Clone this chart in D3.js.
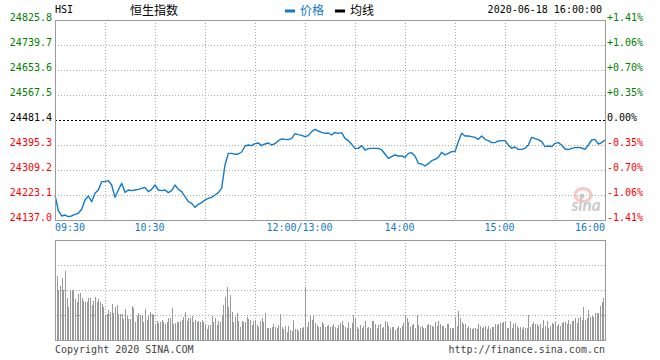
<!DOCTYPE html>
<html>
<head>
<meta charset="utf-8">
<script src="https://cdn.jsdelivr.net/npm/d3@7/dist/d3.min.js"></script>
<style>
html,body{margin:0;padding:0;background:#fff;}
svg{display:block;}
</style>
</head>
<body>
<svg id="chart" width="660" height="360"></svg>
<script>
// ---------- data ----------
const title = "恒生指数";
const symbol = "HSI";
const dateText = "2020-06-18 16:00:00";
const prevClose = 24481.4;
const legendNames = ["价格", "均线"];

// price every 2 trading minutes from 09:30 (lunch break removed)
const priceValues = [
  24223.1,24169.2,24150.8,24154.2,24148.5,24150.8,24156.5,24160.0,24173.8,24205.9,
  24219.7,24200.2,24228.9,24240.3,24269.0,24269.0,24272.5,24257.6,24215.1,24240.3,
  24263.3,24232.3,24240.3,24238.0,24240.3,24242.6,24246.1,24249.5,24234.6,24242.6,
  24257.6,24240.3,24238.0,24240.3,24231.2,24238.0,24257.6,24242.6,24234.6,24217.4,
  24200.2,24194.4,24180.6,24191.0,24196.7,24205.9,24211.6,24215.1,24223.1,24231.2,
  24246.1,24326.4,24366.6,24366.6,24363.2,24364.3,24371.2,24391.9,24395.3,24393.0,
  24399.9,24402.2,24393.0,24398.8,24402.2,24395.3,24399.9,24410.2,24416.0,24414.8,
  24413.7,24418.3,24434.4,24430.9,24428.6,24424.0,24427.5,24441.2,24449.3,24443.5,
  24438.9,24435.5,24436.6,24429.8,24438.9,24435.5,24437.8,24418.3,24410.2,24397.6,
  24383.8,24383.8,24393.0,24378.1,24382.7,24383.8,24383.8,24383.8,24378.1,24364.3,
  24349.4,24355.1,24360.9,24357.4,24357.4,24352.8,24366.6,24368.9,24357.4,24332.2,
  24329.9,24323.0,24331.0,24341.4,24346.0,24352.8,24370.1,24360.9,24366.6,24372.4,
  24372.4,24406.8,24435.5,24426.3,24426.3,24424.0,24421.7,24414.8,24426.3,24414.8,
  24410.2,24403.4,24403.4,24409.1,24410.2,24410.2,24395.3,24383.8,24388.4,24380.4,
  24380.4,24383.8,24395.3,24421.7,24417.1,24413.7,24406.8,24389.6,24391.9,24389.6,
  24401.1,24403.4,24395.3,24381.5,24379.2,24383.8,24386.1,24387.3,24385.0,24380.4,
  24395.3,24412.5,24414.8,24398.8,24403.4,24412.5
];

// volume per trading minute (relative units, 100 = top of volume panel)
const volumeValues = [
  55,64,50,54,62,50,69,42,33,50, 50,50,41,38,46,47,42,39,38,38,
  42,42,35,39,43,38,41,38,36,33, 25,26,30,28,36,27,33,35,26,26,
  26,21,31,25,21,21,34,32,18,24, 27,25,25,18,31,20,24,28,26,25,
  16,19,17,18,20,18,16,18,22,22, 32,16,17,18,18,19,20,23,28,19,
  22,22,24,18,20,18,19,18,20,18, 16,11,15,15,24,18,22,15,19,18,
  25,35,43,53,33,45,28,18,23,27, 19,13,19,18,18,23,21,20,15,19,
  20,15,13,19,22,18,27,12,12,12, 13,16,13,12,15,26,13,11,14,8,
  14,10,9,20,11,11,9,12,12,13, 53,13,18,24,20,24,17,15,13,13,
  18,16,13,14,15,13,14,16,13,12, 15,17,19,15,13,12,18,12,17,25,
  22,13,11,15,12,14,19,12,13,12, 19,19,16,12,15,16,12,13,19,18,
  14,11,13,13,10,12,14,12,14,17, 25,22,18,13,15,16,12,25,15,13,
  14,12,12,15,16,15,14,13,18,14, 19,16,14,14,12,16,16,12,12,12,
  23,14,29,22,18,16,16,12,14,12, 11,12,12,11,16,14,12,13,14,11,
  14,11,13,13,16,15,16,17,17,18, 18,12,12,19,12,16,17,14,12,13,
  11,13,12,12,25,13,16,18,16,16, 14,16,12,20,14,19,12,14,17,16,
  18,14,16,14,17,18,18,16,20,16, 19,19,22,17,22,23,20,33,20,22,
  30,23,25,23,27,27,27,34,38,42, 44
];

const leftTickLabels  = ["24825.8","24739.7","24653.6","24567.5","24481.4","24395.3","24309.2","24223.1","24137.0"];
const rightTickLabels = ["+1.41%","+1.06%","+0.70%","+0.35%","0.00%","-0.35%","-0.70%","-1.06%","-1.41%"];
const timeTickMinutes = [0, 60, 150, 210, 270, 330];
const timeTickLabels  = ["09:30","10:30","12:00/13:00","14:00","15:00","16:00"];
const copyright = "Copyright 2020 SINA.COM";
const siteUrl = "http://finance.sina.com.cn";

// ---------- layout ----------
const svg = d3.select("#chart");
const L = 55, R = 605, T = 20, B = 220, VT = 240, VB = 340;
const blue = "#1479c9", gridC = "#a8a8a8", borderC = "#9a9a9a";
const green = "#008000", red = "#ff0000";
const mono = '"DejaVu Sans Mono", monospace';
const cjk = '"Noto Sans CJK SC", sans-serif';

const yVals = leftTickLabels.map(Number);
const x = d3.scaleLinear().domain([0, 330]).range([L, R]);
const y = d3.scaleLinear().domain([yVals[8], yVals[0]]).range([B, T]);
const yv = d3.scaleLinear().domain([0, 100]).range([VB, VT]);

// ---------- grids ----------
const vMinutes = d3.range(30, 330, 30);
const gGrid = svg.append("g").attr("shape-rendering", "crispEdges");
gGrid.selectAll(".vg").data(vMinutes).join("line")
  .attr("x1", d => Math.round(x(d)) + 0.5).attr("x2", d => Math.round(x(d)) + 0.5)
  .attr("y1", T).attr("y2", B)
  .attr("stroke", gridC).attr("stroke-dasharray", "1,2");
gGrid.selectAll(".hg").data(yVals.slice(1, 8)).join("line")
  .attr("x1", L).attr("x2", R)
  .attr("y1", d => Math.round(y(d)) + 0.5).attr("y2", d => Math.round(y(d)) + 0.5)
  .attr("stroke", d => d === prevClose ? "#000" : gridC)
  .attr("stroke-dasharray", d => d === prevClose ? "2,2" : "1,2");

gGrid.selectAll(".vvg").data(vMinutes).join("line")
  .attr("x1", d => Math.round(x(d)) + 0.5).attr("x2", d => Math.round(x(d)) + 0.5)
  .attr("y1", VT).attr("y2", VB)
  .attr("stroke", gridC).attr("stroke-dasharray", "1,2");
gGrid.selectAll(".vhg").data([25, 50, 75]).join("line")
  .attr("x1", L).attr("x2", R)
  .attr("y1", d => Math.round(yv(d)) + 0.5).attr("y2", d => Math.round(yv(d)) + 0.5)
  .attr("stroke", gridC).attr("stroke-dasharray", "1,2");

// ---------- watermark ----------
const wm = svg.append("g").attr("opacity", 0.6);
wm.append("ellipse").attr("cx", 583).attr("cy", 195).attr("rx", 8).attr("ry", 6.5)
  .attr("fill", "none").attr("stroke", "#f4a0a0").attr("stroke-width", 3);
wm.append("circle").attr("cx", 582).attr("cy", 196).attr("r", 2.5).attr("fill", "#aaa");
wm.append("text").attr("x", 586).attr("y", 211).attr("text-anchor", "middle")
  .attr("font-family", "Lato, sans-serif").attr("font-style", "italic").attr("font-weight", "bold")
  .attr("font-size", 17).attr("fill", "#a8a8a8").text("sina");

// ---------- volume bars ----------
svg.append("g").attr("shape-rendering", "crispEdges")
  .selectAll("rect").data(volumeValues).join("rect")
  .attr("x", (d, i) => Math.round(x(i)))
  .attr("width", 1)
  .attr("y", d => yv(d))
  .attr("height", d => VB - yv(d))
  .attr("fill", "#999");

// ---------- price line ----------
const line = d3.line().x((d, i) => x(i * 2)).y(d => y(d));
svg.append("path").datum(priceValues)
  .attr("d", line).attr("fill", "none")
  .attr("stroke", blue).attr("stroke-width", 1.4).attr("stroke-linejoin", "round");

// ---------- borders ----------
const gB = svg.append("g").attr("shape-rendering", "crispEdges").attr("fill", "none").attr("stroke", borderC);
gB.append("rect").attr("x", L + 0.5).attr("y", T + 0.5).attr("width", R - L).attr("height", B - T);
gB.append("rect").attr("x", L + 0.5).attr("y", VT + 0.5).attr("width", R - L).attr("height", VB - VT);

// ---------- axis labels ----------
svg.append("g").selectAll("text").data(leftTickLabels).join("text")
  .attr("x", 52).attr("y", d => y(+d) + 1)
  .attr("text-anchor", "end").attr("font-family", mono).attr("font-size", 10)
  .attr("fill", d => +d > prevClose ? green : (+d < prevClose ? red : "#000"))
  .text(d => d);
svg.append("g").selectAll("text").data(rightTickLabels).join("text")
  .attr("x", 607).attr("y", (d, i) => y(yVals[i]) + 1)
  .attr("font-family", mono).attr("font-size", 10)
  .attr("fill", d => d[0] === "+" ? green : (d[0] === "-" ? red : "#000"))
  .text(d => d);

svg.append("g").selectAll("text").data(timeTickMinutes).join("text")
  .attr("x", (d, i) => i === 0 ? L : (i === timeTickMinutes.length - 1 ? R : x(d) - 5.5))
  .attr("y", 231)
  .attr("text-anchor", (d, i) => i === 0 ? "start" : (i === timeTickMinutes.length - 1 ? "end" : "middle"))
  .attr("font-family", mono).attr("font-size", 10).attr("fill", blue)
  .text((d, i) => timeTickLabels[i]);

// ---------- header ----------
svg.append("text").attr("x", 55).attr("y", 13).attr("font-family", mono).attr("font-size", 10).attr("fill", "#000").text(symbol);
svg.append("text").attr("x", 130).attr("y", 14.5).attr("font-family", cjk).attr("font-size", 12).attr("fill", "#000").text(title);
svg.append("rect").attr("x", 285).attr("y", 9.5).attr("width", 10).attr("height", 3).attr("fill", blue);
svg.append("text").attr("x", 300).attr("y", 14.5).attr("font-family", cjk).attr("font-size", 12).attr("fill", blue).text(legendNames[0]);
svg.append("rect").attr("x", 335).attr("y", 9.5).attr("width", 10).attr("height", 3).attr("fill", "#000");
svg.append("text").attr("x", 350).attr("y", 14.5).attr("font-family", cjk).attr("font-size", 12).attr("fill", "#000").text(legendNames[1]);
svg.append("text").attr("x", 602).attr("y", 13).attr("text-anchor", "end").attr("font-family", mono).attr("font-size", 10).attr("fill", "#000").text(dateText);

// ---------- footer ----------
svg.append("text").attr("x", 55).attr("y", 353).attr("font-family", mono).attr("font-size", 10).attr("fill", "#444").text(copyright);
svg.append("text").attr("x", 605).attr("y", 353).attr("text-anchor", "end").attr("font-family", mono).attr("font-size", 10).attr("fill", "#444").text(siteUrl);
</script>
</body>
</html>
